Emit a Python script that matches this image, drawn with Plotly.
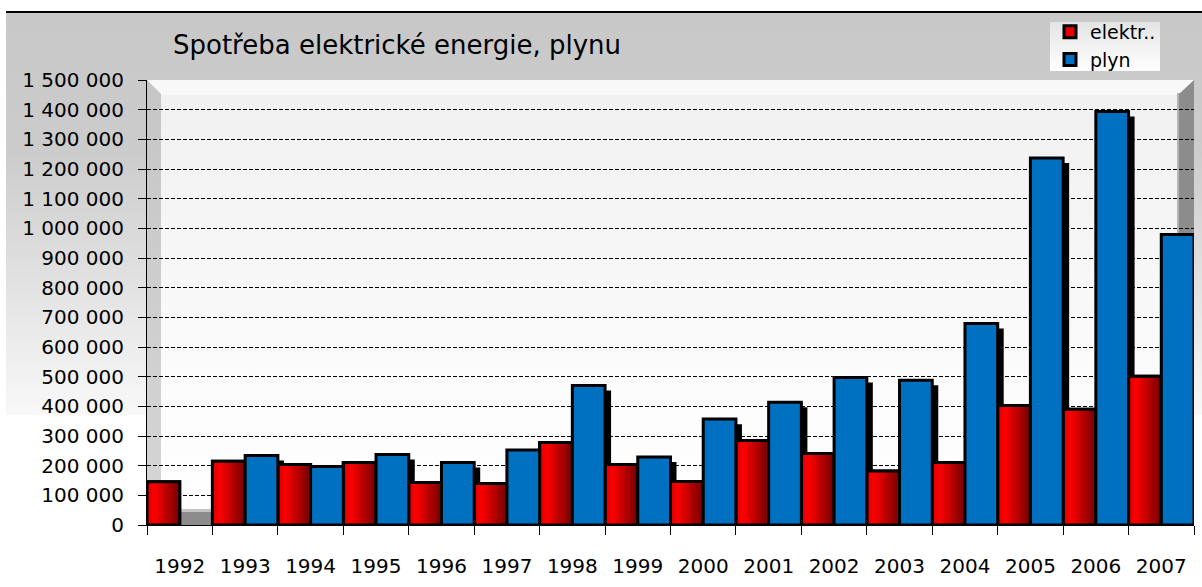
import base64
import plotly.graph_objects as go

# ---------------- data ----------------
years = ["1992", "1993", "1994", "1995", "1996", "1997", "1998", "1999",
         "2000", "2001", "2002", "2003", "2004", "2005", "2006", "2007"]
elektr = [146000, 215000, 204000, 211000, 143000, 140000, 278000, 204000,
          147000, 285000, 241000, 182000, 211000, 403000, 390000, 501000]
plyn = [None, 234000, 197000, 238000, 211000, 253000, 470000, 229000,
        357000, 414000, 497000, 488000, 679000, 1237000, 1394000, 979000]
title_text = "Spotřeba elektrické energie, plynu"
name_el = "elektr.."
name_pl = "plyn"

# ---------------- geometry ----------------
W, H = 1202, 587
L, R, T, B = 147, 8, 80, 62
pw, ph = W - L - R, H - T - B
FONT = "DejaVu Sans, Liberation Sans, sans-serif"

# background decoration (3D chart walls / floor / panel gradients)
svg = f'''<svg xmlns="http://www.w3.org/2000/svg" width="{W}" height="{H}" viewBox="0 0 {W} {H}" preserveAspectRatio="none">
<defs>
<linearGradient id="bg" x1="0" y1="0" x2="0" y2="1"><stop offset="0" stop-color="#c8c8c8"/><stop offset="0.35" stop-color="#cccccc"/><stop offset="1" stop-color="#f8f8f8"/></linearGradient>
<linearGradient id="pa" x1="0" y1="0" x2="0" y2="1"><stop offset="0" stop-color="#f0f0f0"/><stop offset="0.7" stop-color="#fcfcfc"/><stop offset="1" stop-color="#ffffff"/></linearGradient>
<linearGradient id="lw" x1="0" y1="0" x2="0" y2="1"><stop offset="0" stop-color="#c6c6c6"/><stop offset="1" stop-color="#d6d6d6"/></linearGradient>
<linearGradient id="lg" x1="0" y1="0" x2="0" y2="1"><stop offset="0" stop-color="#e4e4e4"/><stop offset="1" stop-color="#ffffff"/></linearGradient>
</defs>
<rect x="6" y="12" width="1196" height="403" fill="url(#bg)"/>
<rect x="6" y="11" width="1196" height="2" fill="#000"/>
<rect x="147" y="80" width="1047" height="445" fill="url(#pa)"/>
<rect x="147" y="80" width="1047" height="15" fill="#f8f8f8"/>
<polygon points="147,80 161,94 161,510 147,525" fill="url(#lw)"/>
<rect x="1177" y="93" width="3" height="420" fill="#b4b4b4"/>
<polygon points="1179,94 1194,80 1194,525 1179,510" fill="#8c8c8c"/>
<rect x="147" y="509" width="1047" height="3" fill="#c4c4c4"/>
<rect x="147" y="512" width="1047" height="13" fill="#8c8c8c"/>
<rect x="1050" y="22" width="110" height="49" fill="url(#lg)"/>
</svg>'''
svg_uri = "data:image/svg+xml;base64," + base64.b64encode(svg.encode("utf-8")).decode()

fig = go.Figure()

# drop shadow of gas bars
fig.add_trace(go.Bar(x=years, y=plyn, base=-17000, offset=0.092, width=0.5,
                     marker=dict(color="#000000", line=dict(width=0)),
                     showlegend=False, hoverinfo="skip"))

# electricity bars: base (legend entry), gradient slices, outline
fig.add_trace(go.Bar(x=years, y=elektr, name=name_el, offset=-0.5, width=0.5,
                     marker=dict(color="#e80000", line=dict(color="#000000", width=3))))


def lerp(c1, c2, t):
    return tuple(round(a + (b - a) * t) for a, b in zip(c1, c2))


N = 14
c_edge, c_bright, c_dark = (214, 0, 0), (255, 0, 0), (110, 0, 0)
for i in range(N):
    t = (i + 0.5) / N
    if t < 0.22:
        c = lerp(c_edge, c_bright, t / 0.22)
    else:
        c = lerp(c_bright, c_dark, (t - 0.22) / 0.78)
    fig.add_trace(go.Bar(x=years, y=elektr, offset=-0.5 + i * 0.5 / N, width=0.5 / N + 0.004,
                         marker=dict(color="rgb(%d,%d,%d)" % c, line=dict(width=0)),
                         showlegend=False, hoverinfo="skip"))

fig.add_trace(go.Bar(x=years, y=elektr, offset=-0.5, width=0.5,
                     marker=dict(color="rgba(0,0,0,0)", line=dict(color="#000000", width=3)),
                     showlegend=False, hoverinfo="skip"))

# gas bars
fig.add_trace(go.Bar(x=years, y=plyn, name=name_pl, offset=0.0, width=0.5,
                     marker=dict(color="#0070c0", line=dict(color="#000000", width=3))))

fig.update_layout(
    width=W, height=H,
    margin=dict(l=L, r=R, t=T, b=B, pad=0),
    paper_bgcolor="#ffffff",
    plot_bgcolor="rgba(0,0,0,0)",
    barmode="overlay",
    separators=". ",
    font=dict(family=FONT, color="#000000"),
    title=dict(text=title_text, font=dict(family=FONT, size=26, color="#000000"),
               xref="container", x=173 / W, xanchor="left",
               yref="container", y=1 - 45 / H, yanchor="middle"),
    legend=dict(x=(1050 - L) / pw, y=1 + (T - 13) / ph, xanchor="left", yanchor="top",
                bgcolor="rgba(0,0,0,0)", borderwidth=0, font=dict(family=FONT, size=19),
                tracegroupgap=0, itemclick=False),
    images=[dict(source=svg_uri, xref="paper", yref="paper",
                 x=-L / pw, y=1 + T / ph, sizex=W / pw, sizey=H / ph,
                 xanchor="left", yanchor="top", sizing="stretch", layer="below")],
    xaxis=dict(type="category", tickson="boundaries", ticks="outside", ticklen=9,
               tickcolor="#000000", showline=True, linecolor="#000000", linewidth=1,
               tickfont=dict(family=FONT, size=20), ticklabelstandoff=23,
               range=[-0.5, 15.5], showgrid=False, zeroline=False),
    yaxis=dict(range=[0, 1500000], tick0=0, dtick=100000, tickformat=",d",
               showgrid=True, gridcolor="#000000", gridwidth=1, griddash="4px,2px",
               showline=True, linecolor="#000000", linewidth=1,
               ticks="outside", ticklen=8, tickcolor="#000000",
               tickfont=dict(family=FONT, size=20), ticklabelstandoff=10, zeroline=False),
)

fig.write_html("out.html", config={"displayModeBar": False},
               post_script="document.body.style.margin='0';document.body.style.overflow='hidden';")
